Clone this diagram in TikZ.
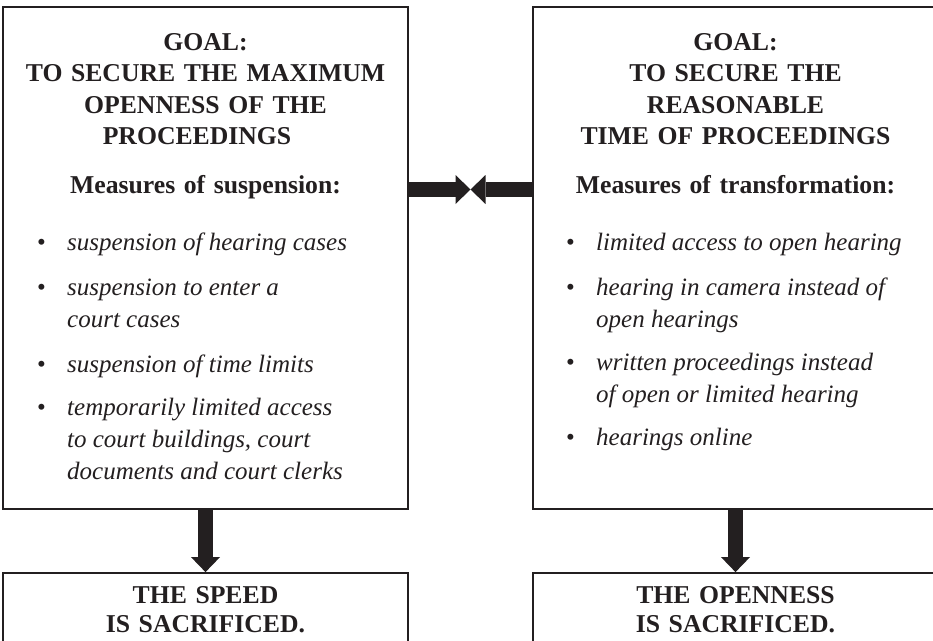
\documentclass[tikz,border=0pt]{standalone}
\usepackage{fontspec}
\setmainfont{Liberation Serif}
\usepackage{xcolor}
\usetikzlibrary{arrows.meta}
\definecolor{ink}{HTML}{231F20}
\newcommand{\bitem}[1]{\makebox[30pt][l]{\textbullet}\parbox[t]{330pt}{\itshape #1}}

\tikzset{
  box/.style={draw=ink, line width=1.8pt, minimum width=405pt, minimum height=502pt, inner sep=0pt},
  goal/.style={text=ink, font=\bfseries\fontsize{25.7}{31.5}\selectfont, text width=400pt, align=center, anchor=base, inner sep=0pt},
  result/.style={goal, font=\bfseries\fontsize{25.7}{29}\selectfont},
  entry/.style={text=ink, font=\fontsize{25}{32}\selectfont, anchor=base west, inner sep=0pt},
  fatarrow/.style={draw=ink, line width=15pt, -{Triangle[length=15pt,width=29pt,line width=0pt]}}
}

\begin{document}
\begin{tikzpicture}[x=1pt,y=-1pt]
  \useasboundingbox (0,0) rectangle (933,640);
  \clip (0,0) rectangle (933,640);
  % boxes
  \node[box] (openbox) at (205.5,258) {};
  \node[box] (timebox) at (735.5,258) {};
  \node[box, minimum height=90pt] (speedbox) at (205.5,618) {};
  \node[box, minimum height=90pt] (opennessbox) at (735.5,618) {};
  % left goal
  \node[goal] (opengoal) at (205.5,50) {GOAL:\\TO SECURE THE MAXIMUM\\OPENNESS OF THE\\PROCEEDINGS\kern17pt};
  \node[goal] (openhead) at (205.5,193) {Measures of suspension:};
  \node[entry] (open1) at (37,250) {\bitem{suspension of hearing cases}};
  \node[entry] (open2) at (37,295) {\bitem{suspension to enter a\\court cases}};
  \node[entry] (open3) at (37,372) {\bitem{suspension of time limits}};
  \node[entry] (open4) at (37,415) {\bitem{temporarily limited access\\to court buildings, court\\documents and court clerks}};
  % right goal
  \node[goal] (timegoal) at (735.5,50) {GOAL:\\TO SECURE THE\\REASONABLE\\TIME OF PROCEEDINGS};
  \node[goal] (timehead) at (735.5,193) {Measures of transformation:};
  \node[entry] (time1) at (566,250) {\bitem{limited access to open hearing}};
  \node[entry] (time2) at (566,295) {\bitem{hearing in camera instead of\\open hearings}};
  \node[entry] (time3) at (566,370) {\bitem{written proceedings instead\\of open or limited hearing}};
  \node[entry] (time4) at (566,445) {\bitem{hearings online}};
  % results
  \node[result] (speedtext) at (205.5,603) {THE SPEED\\IS SACRIFICED.};
  \node[result] (opentext) at (735.5,603) {THE OPENNESS\\IS SACRIFICED.};
  % arrows
  \coordinate (meet) at (470.5,189.5);
  \draw[fatarrow] (openbox.east |- meet) -- (meet);
  \draw[fatarrow] (timebox.west |- meet) -- (meet);
  \draw[fatarrow] (openbox.south) -- (speedbox.north);
  \draw[fatarrow] (timebox.south) -- (opennessbox.north);
\end{tikzpicture}
\end{document}
